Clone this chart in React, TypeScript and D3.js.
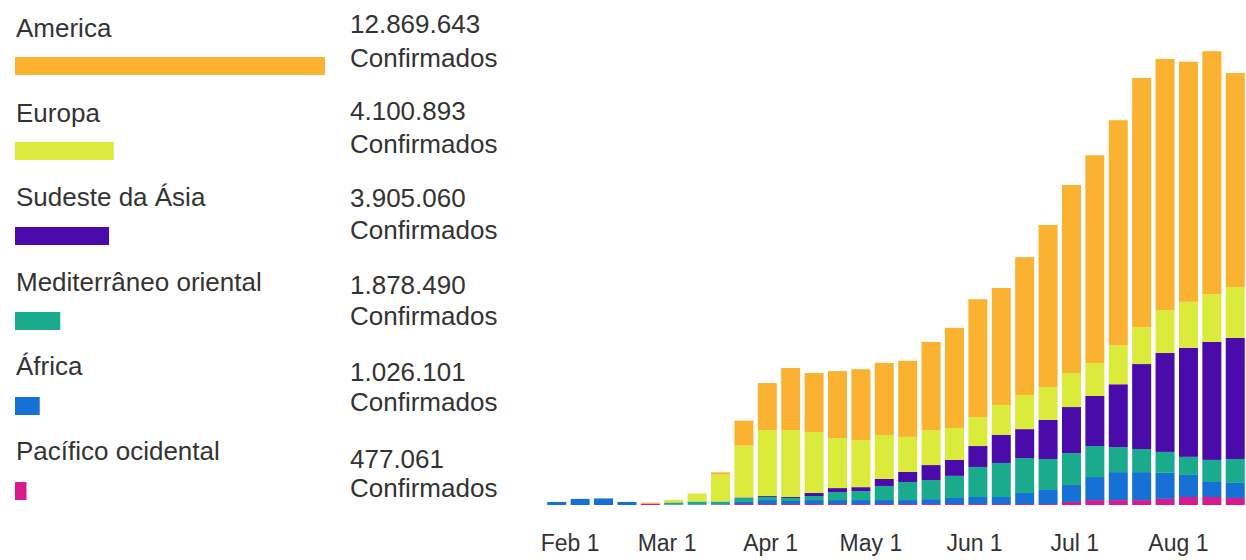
import React from "react";
import * as d3 from "d3";

// Week start dates (Mondays)
const weeks = [
  "2020-01-27", "2020-02-03", "2020-02-10", "2020-02-17", "2020-02-24",
  "2020-03-02", "2020-03-09", "2020-03-16", "2020-03-23", "2020-03-30",
  "2020-04-06", "2020-04-13", "2020-04-20", "2020-04-27", "2020-05-04",
  "2020-05-11", "2020-05-18", "2020-05-25", "2020-06-01", "2020-06-08",
  "2020-06-15", "2020-06-22", "2020-06-29", "2020-07-06", "2020-07-13",
  "2020-07-20", "2020-07-27", "2020-08-03", "2020-08-10", "2020-08-17",
];

// Weekly confirmed cases by region
const america = [0, 0, 0, 0, 4000, 0, 0, 9000, 106000, 200000, 264000, 251000, 285000, 302000, 307000, 324000, 375000, 426000, 502000, 498000, 587000, 690000, 800000, 885000, 958000, 1060000, 1069000, 1022000, 1034000, 911000];
const europa = [0, 0, 0, 0, 0, 11000, 34000, 115000, 221000, 281000, 285000, 260000, 213000, 200000, 187000, 149000, 149000, 136000, 123000, 128000, 145000, 140000, 145000, 140000, 166000, 158000, 183000, 196000, 204000, 217000];
const sudesteAsia = [0, 0, 0, 0, 0, 0, 0, 0, 2000, 4000, 4000, 13000, 17000, 17000, 30000, 43000, 64000, 68000, 89000, 119000, 123000, 166000, 196000, 213000, 268000, 362000, 421000, 464000, 502000, 515000];
const mediterraneo = [0, 0, 0, 0, 0, 9000, 13000, 11000, 17000, 13000, 13000, 17000, 34000, 38000, 60000, 77000, 81000, 94000, 128000, 145000, 149000, 132000, 136000, 132000, 106000, 98000, 89000, 77000, 94000, 102000];
const africa = [13000, 26000, 28000, 13000, 0, 0, 0, 2000, 9000, 17000, 13000, 17000, 17000, 17000, 17000, 17000, 21000, 26000, 30000, 30000, 47000, 60000, 72000, 98000, 119000, 119000, 111000, 94000, 64000, 64000];
const pacifico = [0, 0, 0, 0, 6000, 2000, 2000, 2000, 4000, 4000, 4000, 4000, 4000, 4000, 4000, 4000, 4000, 4000, 4000, 4000, 4000, 4000, 13000, 21000, 21000, 21000, 26000, 34000, 34000, 30000];

// Legend
const regionNames = ["America", "Europa", "Sudeste da Ásia", "Mediterrâneo oriental", "África", "Pacífico ocidental"];
const regionTotals = [12869643, 4100893, 3905060, 1878490, 1026101, 477061];
const regionColors = ["#FBB230", "#DAEB3C", "#4B0BAA", "#1AAA8C", "#1670D6", "#D81B8C"];
const regionKeys = ["america", "europa", "sudesteAsia", "mediterraneo", "africa", "pacifico"];

const tickDates = ["2020-02-01", "2020-03-01", "2020-04-01", "2020-05-01", "2020-06-01", "2020-07-01", "2020-08-01"];

const parse = (s: string) => {
  const [y, m, d] = s.split("-").map(Number);
  return new Date(y, m - 1, d);
};

export default function App() {
  const width = 1246;
  const height = 560;
  const font = "'Liberation Sans', Arial, sans-serif";
  const textColor = "#333";

  const table = weeks.map((w, i) => ({
    date: parse(w),
    america: america[i],
    europa: europa[i],
    sudesteAsia: sudesteAsia[i],
    mediterraneo: mediterraneo[i],
    africa: africa[i],
    pacifico: pacifico[i],
  }));

  const stackKeys = [...regionKeys].reverse();
  const series = d3.stack<any>().keys(stackKeys)(table);
  const colorOf = (k: string) => regionColors[regionKeys.indexOf(k)];

  const x = d3.scaleTime().domain([new Date(2020, 0, 20), new Date(2020, 7, 24)]).range([530, 1255.3]);
  const y = d3.scaleLinear().domain([0, 2000000]).range([505, 35.2]);
  const barW = 19;
  const center = (d: Date) => x(d3.timeDay.offset(d, 1));

  const legendW = d3.scaleLinear().domain([0, regionTotals[0]]).range([0, 310]);
  const fmt = d3.formatLocale({ decimal: ",", thousands: ".", grouping: [3], currency: ["", ""] }).format(",d");
  const tickFmt = d3.timeFormat("%b %-d");

  return (
    <svg width={width} height={height} style={{ position: "absolute", left: 0, top: 0, background: "#fff" }} fontFamily={font}>
      {/* Legend */}
      {regionNames.map((name, i) => {
        const top = 57 + 85 * i;
        return (
          <g key={name}>
            <text x={16} y={37 + 84.6 * i} fontSize={26} fill={textColor}>{name}</text>
            <rect x={15} y={top} width={legendW(regionTotals[i])} height={18} fill={regionColors[i]} />
            <text x={350} y={33 + 87 * i} fontSize={26} fill={textColor}>{fmt(regionTotals[i])}</text>
            <text x={350} y={67 + 86 * i} fontSize={26} fill={textColor}>Confirmados</text>
          </g>
        );
      })}

      {/* Bars */}
      {series.map((s) => (
        <g key={s.key} fill={colorOf(s.key)}>
          {s.map((d: any, i: number) => {
            const h = y(d[0]) - y(d[1]);
            if (h <= 0) return null;
            return (
              <rect
                key={i}
                x={center(d.data.date) - barW / 2}
                y={y(d[1])}
                width={barW}
                height={h}
              />
            );
          })}
        </g>
      ))}

      {/* X axis labels */}
      {tickDates.map((t) => {
        const d = parse(t);
        return (
          <text key={t} x={x(d)} y={551} fontSize={23} textAnchor="middle" fill={textColor}>
            {tickFmt(d)}
          </text>
        );
      })}
    </svg>
  );
}
